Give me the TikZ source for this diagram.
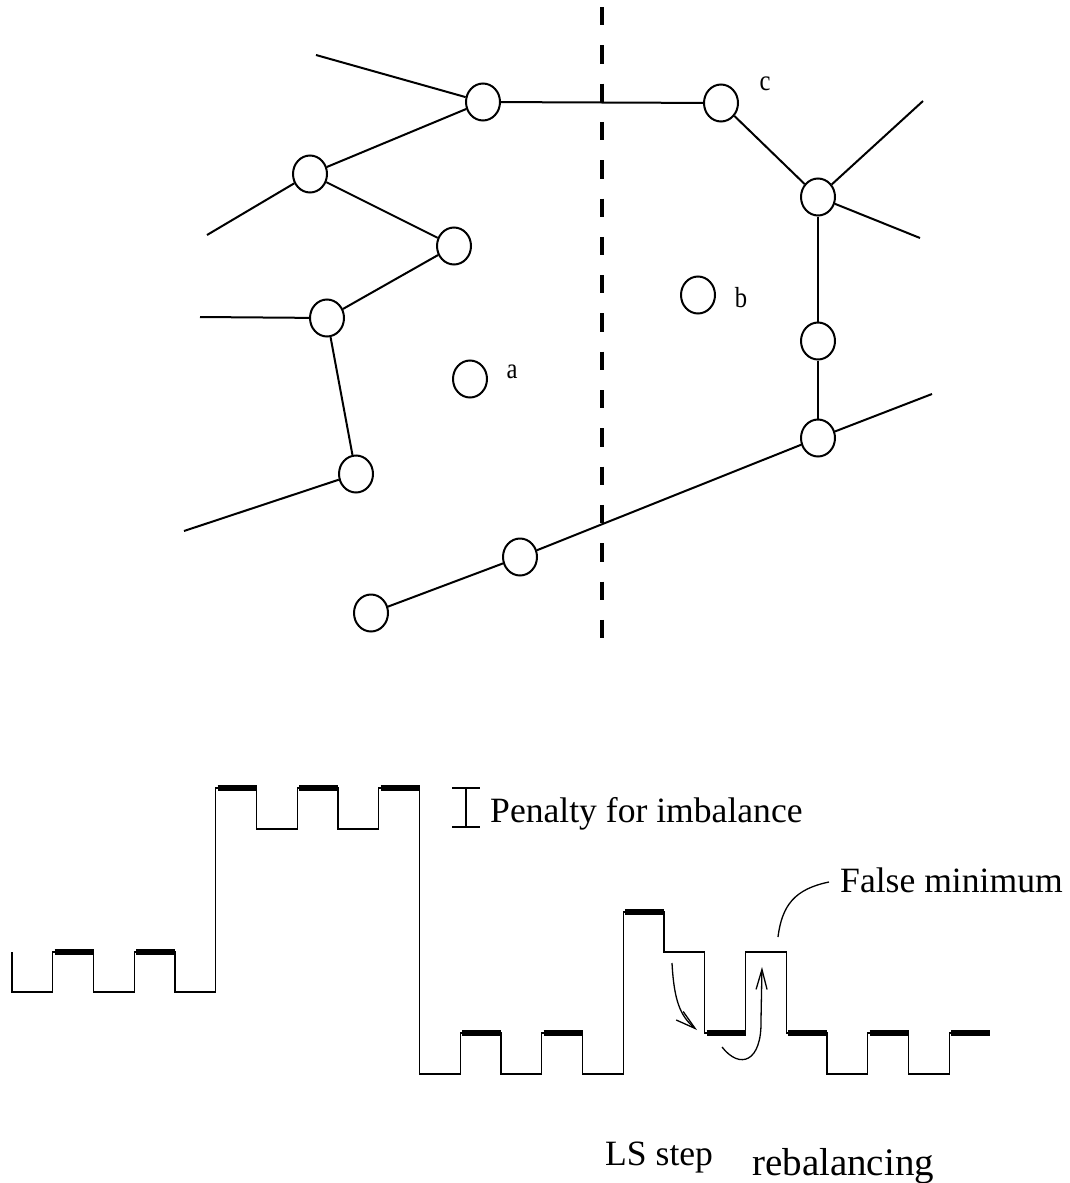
\documentclass[tikz,border=0pt]{standalone}
\usepackage{fontspec}
\setmainfont{Liberation Serif}
\usetikzlibrary{shapes.geometric,arrows.meta}
\begin{document}
\begin{tikzpicture}[x=1pt,y=-1pt,
  vert/.style={ellipse,draw,line width=2pt,minimum width=34pt,minimum height=37pt,inner sep=0pt},
  edge/.style={line width=2pt},
  cut/.style={line width=4pt,dash pattern=on 18.3pt off 20pt},
  steps/.style={line width=1.3pt},
  bar/.style={line width=6pt},
  big/.style={font=\fontsize{35.6}{40}\selectfont,inner sep=0pt},
  bigger/.style={font=\fontsize{39}{44}\selectfont,inner sep=0pt},
  small/.style={font=\fontsize{29}{30}\selectfont,inner sep=0pt},
  barb/.style={line width=1.3pt,-{Straight Barb[length=20pt,width=11pt,line width=1.3pt]}}
]
\useasboundingbox (0,0) rectangle (1070,1183);

% ---------- graph ----------
\node[vert] (v1) at (483,102) {};
\node[vert] (vc) at (721,103) {};
\node[vert] (v3) at (310,174) {};
\node[vert] (v4) at (454,246) {};
\node[vert] (v5) at (327,318) {};
\node[vert] (va) at (470,379) {};
\node[vert] (vb) at (698,295) {};
\node[vert] (r1) at (818,197) {};
\node[vert] (r2) at (818,341) {};
\node[vert] (r3) at (818,438) {};
\node[vert] (v6) at (356,474) {};
\node[vert] (v7) at (520,557) {};
\node[vert] (v8) at (371,613) {};

\node[small] (la) at (512,372) {\scalebox{0.85}[1]{a}};
\node[small] (lb) at (741,298) {\scalebox{0.85}[1]{b}};
\node[small] (lc) at (765,84) {\scalebox{0.85}[1]{c}};

\coordinate (e1) at (316,55);
\coordinate (e2) at (207,235);
\coordinate (e3) at (200,317);
\coordinate (e4) at (184,531);
\coordinate (e5) at (923,101);
\coordinate (e6) at (920,238);
\coordinate (e7) at (932,394);

\draw[edge] (v1) -- (e1);
\draw[edge] (v1) -- (v3);
\draw[edge] (v1) -- (vc);
\draw[edge] (v3) -- (e2);
\draw[edge] (v3) -- (v4);
\draw[edge] (v4) -- (v5);
\draw[edge] (v5) -- (e3);
\draw[edge] (v5) -- (v6);
\draw[edge] (v6) -- (e4);
\draw[edge] (vc) -- (r1);
\draw[edge] (r1) -- (e5);
\draw[edge] (r1) -- (e6);
\draw[edge] (r1) -- (r2);
\draw[edge] (r2) -- (r3);
\draw[edge] (r3) -- (e7);
\draw[edge] (r3) -- (v7);
\draw[edge] (v7) -- (v8);

\coordinate (ct) at (602,7);
\coordinate (cb) at (602,640);
\draw[cut] (ct) -- (cb);

% ---------- energy landscape ----------
\draw[steps] (12,952) -- (12,992) -- (52.75,992) -- (52.75,952) -- (93.5,952) -- (93.5,992)
 -- (134.25,992) -- (134.25,952) -- (175,952) -- (175,992) -- (215.75,992) -- (215.75,788)
 -- (256.5,788) -- (256.5,829) -- (297.25,829) -- (297.25,788) -- (338,788) -- (338,829)
 -- (378.75,829) -- (378.75,788) -- (419.5,788) -- (419.5,1074) -- (460.25,1074) -- (460.25,1033)
 -- (501,1033) -- (501,1074) -- (541.75,1074) -- (541.75,1033) -- (582.5,1033) -- (582.5,1074)
 -- (623.25,1074) -- (623.25,912) -- (664,912) -- (664,952) -- (704.75,952) -- (704.75,1033)
 -- (745.5,1033) -- (745.5,952) -- (786.25,952) -- (786.25,1033) -- (827,1033) -- (827,1074)
 -- (867.75,1074) -- (867.75,1033) -- (908.5,1033) -- (908.5,1074) -- (949.25,1074) -- (949.25,1033)
 -- (990,1033);

\foreach \a/\b/\y in {54.5/93.5/952, 136/175/952,
  217.5/256.5/788, 299/338/788, 380.5/419.5/788,
  462/501/1033, 543.5/582.5/1033, 625/664/912, 706.5/745.5/1033,
  788/827/1033, 869.5/908.5/1033, 951/990/1033}
  \draw[bar] (\a,\y) -- (\b,\y);

% penalty marker
\draw[steps] (452,788) -- (480,788) (466,788) -- (466,827) (452,827) -- (480,827);
\node[big,anchor=base west] (pen) at (490,822) {Penalty for imbalance};

% false minimum
\node[big,anchor=base west] (fm) at (840,892) {False minimum};
\coordinate (fms) at (778,937);
\coordinate (fme) at (829,882);
\draw[steps] (fms) .. controls (782,905) and (795,889) .. (fme);

% arrows
\coordinate (ls1) at (672,963);
\coordinate (ls2) at (697,1030);
\draw[barb] (ls1) .. controls (674,1000) and (680,1016) .. (ls2);
\coordinate (rb1) at (722,1047);
\coordinate (rb2) at (762,967);
\draw[barb] (rb1) .. controls (740,1070) and (762,1062) .. (761,1020) -- (rb2);

\node[big,anchor=base west] (ls) at (605,1165) {LS step};
\node[bigger,anchor=base west] (rb) at (752,1175) {rebalancing};
\end{tikzpicture}
\end{document}
